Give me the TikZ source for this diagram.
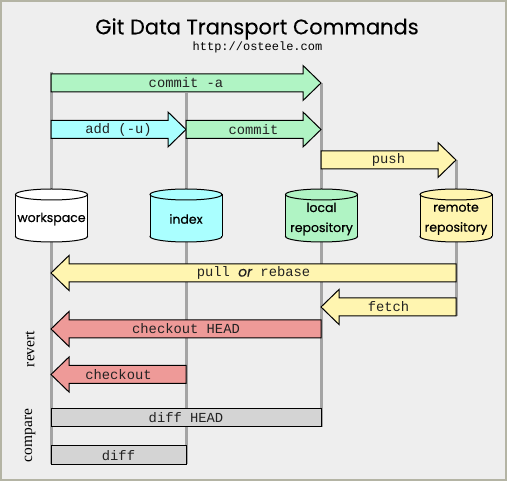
\documentclass[tikz,border=0pt]{standalone}
\usepackage{fontspec}
\setmainfont{Liberation Serif}
\setmonofont{Liberation Mono}
\newfontfamily\geofont[FakeBold=0.5]{Poppins}
\newfontfamily\titlefont[FakeBold=0.15]{Poppins}
\usetikzlibrary{calc}
\definecolor{bgc}{HTML}{EEEEEE}
\definecolor{framec}{HTML}{B4B4A4}
\definecolor{linec}{HTML}{A4A4A4}
\definecolor{greenc}{HTML}{B0F4C4}
\definecolor{cyanc}{HTML}{AAFFFF}
\definecolor{yellowc}{HTML}{FFF5B0}
\definecolor{redc}{HTML}{EE9A98}
\definecolor{grayc}{HTML}{D4D4D4}
\definecolor{txtc}{HTML}{222222}
\newcommand{\rarr}[6]{% name, x0, x1, yc, color, label
  \fill[#5,draw=black,line width=1pt,line join=miter] (#2,#4-9) -- (#3-18,#4-9) -- (#3-18,#4-17.5) -- (#3,#4) -- (#3-18,#4+17.5) -- (#3-18,#4+9) -- (#2,#4+9) -- cycle;
  \node[lbl] (#1) at ({(#2+#3)/2},#4) {#6};}
\newcommand{\larr}[6]{% name, x0(tip), x1, yc, color, label
  \fill[#5,draw=black,line width=1pt,line join=miter] (#3,#4-9) -- (#2+18,#4-9) -- (#2+18,#4-17.5) -- (#2,#4) -- (#2+18,#4+17.5) -- (#2+18,#4+9) -- (#3,#4+9) -- cycle;
  \node[lbl] (#1) at ({(#2+#3)/2},#4) {#6};}
\newcommand{\cyl}[4]{% name, cx, color, text
  \filldraw[#3,draw=black,line width=1pt] (#2,236.5) ellipse [x radius=36,y radius=5.5];
  \fill[#3] (#2-36,194.5) rectangle (#2+36,236.5);
  \draw[line width=1pt] (#2-36,194.5) -- (#2-36,236.5) (#2+36,194.5) -- (#2+36,236.5);
  \filldraw[#3,draw=black,line width=1pt] (#2,194.5) ellipse [x radius=36,y radius=5.5];
  \node[cyltxt] (#1) at (#2,219) {#4};}
\begin{document}
\begin{tikzpicture}[x=1pt,y=-1pt,
  lbl/.style={inner sep=0pt,text=txtc,font=\fontsize{13.8}{14}\selectfont\ttfamily},
  cyltxt/.style={inner sep=0pt,align=center,font=\fontsize{12.5}{20}\selectfont\geofont},
  vline/.style={linec,line width=3pt},
  side/.style={rotate=90,inner sep=0pt,font=\fontsize{15.5}{16}\selectfont}]
\useasboundingbox (0,0) rectangle (507,481);
\fill[framec] (0,0) rectangle (507,481);
\fill[bgc] (2,2) rectangle (505,479);
\node[inner sep=0pt,font=\fontsize{21}{24}\selectfont\titlefont] (title) at (257,29) {Git Data Transport Commands};
\node[inner sep=0pt,font=\fontsize{12}{12}\selectfont\ttfamily] (url) at (257.5,47.5) {http://osteele.com};
% vertical lines
\coordinate (w1) at (51,72); \coordinate (w2) at (51,464.5);
\coordinate (i1) at (186,93); \coordinate (i2) at (186,464.5);
\coordinate (l1) at (321,83); \coordinate (l2) at (321,427);
\coordinate (r1) at (456,160); \coordinate (r2) at (456,316.5);
\draw[vline] (w1) -- (w2);
\draw[vline] (i1) -- (i2);
\draw[vline] (l1) -- (l2);
\draw[vline] (r1) -- (r2);
% cylinders
\cyl{ws}{51.5}{white}{workspace}
\cyl{ix}{186}{cyanc}{index}
\cyl{lr}{321.5}{greenc}{local\\repository}
\cyl{rr}{456}{yellowc}{remote\\repository}
% arrows
\rarr{commita}{51}{321}{83}{greenc}{commit -a}
\rarr{add}{51}{186}{129.5}{cyanc}{add (-u)}
\rarr{commit}{186}{321}{129.5}{greenc}{commit}
\rarr{push}{321}{456}{160}{yellowc}{push}
\larr{pull}{51}{456}{273}{yellowc}{pull {\titlefont\itshape or} rebase}
\larr{fetch}{321}{456}{307}{yellowc}{fetch}
\larr{cohead}{51}{321}{329}{redc}{checkout HEAD}
\larr{co}{51}{186}{374.5}{redc}{checkout}
\filldraw[grayc,draw=black,line width=1pt] (51,408.5) rectangle (321,427);
\node[lbl] (diffhead) at (186,417.7) {diff HEAD};
\filldraw[grayc,draw=black,line width=1pt] (51,446) rectangle (186,464.5);
\node[lbl] (diff) at (118.5,455.2) {diff};
\node[side] (revert) at (30,349) {revert};
\node[side] (compare) at (30,435.5) {compare};
\end{tikzpicture}
\end{document}
